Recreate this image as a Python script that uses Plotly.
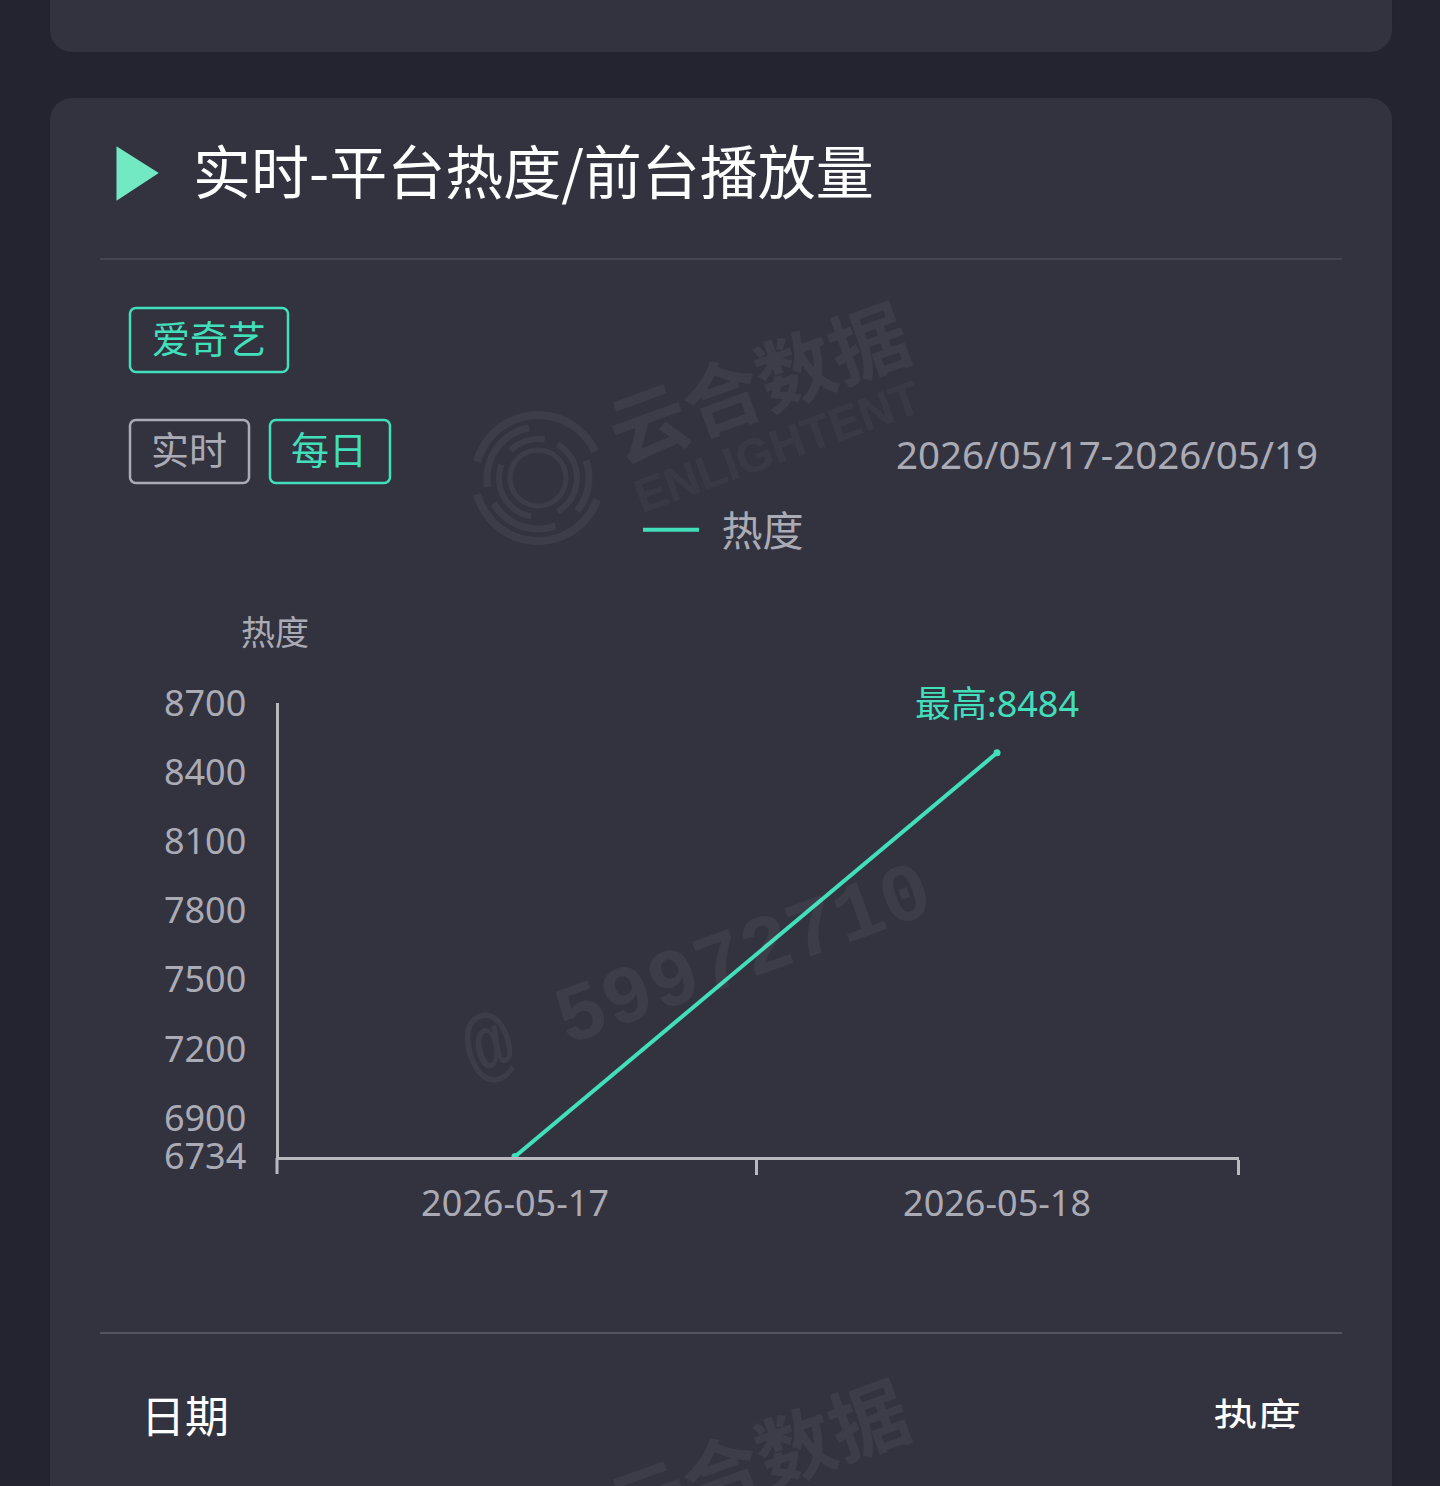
import math
import plotly.graph_objects as go

# ---- data ----
dates = ["2026-05-17", "2026-05-18"]
heat = [6734, 8484]
y_ticks = [6734, 6900, 7200, 7500, 7800, 8100, 8400, 8700]
series_name = "热度"
peak_label = "最高:8484"
title_text = "实时-平台热度/前台播放量"
date_range_text = "2026/05/17-2026/05/19"

W, H = 1440, 1486
BG = "#242430"
CARD = "#333340"
GREEN = "#42DFBB"
GREY = "#ABABB6"
AXIS = "#B8B8BE"
WM = "rgba(255,255,255,0.05)"
CJK = "Noto Sans CJK SC"
NUM = "'Noto Sans', 'Noto Sans CJK SC'"

def px(x): return x / W
def py(y): return 1 - y / H

def path_of(pts, close=False):
    s = "M " + " L ".join(f"{px(a):.5f},{py(b):.5f}" for a, b in pts)
    return s + (" Z" if close else "")

def rrect(x0, y0, x1, y1, r):
    pts = []
    for cx, cy, a0 in ((x1 - r, y0 + r, -90), (x1 - r, y1 - r, 0), (x0 + r, y1 - r, 90), (x0 + r, y0 + r, 180)):
        for i in range(9):
            t = math.radians(a0 + i * 90 / 8)
            pts.append((cx + r * math.cos(t), cy + r * math.sin(t)))
    return path_of(pts, True)

def paper_shape(path, **kw):
    return dict(type="path", xref="paper", yref="paper", path=path, layer="below", **kw)

def arc(cx, cy, r, a0, a1):
    n = max(4, int(abs(a1 - a0) / 6))
    return path_of([(cx + r * math.cos(math.radians(a0 + (a1 - a0) * i / n)),
                     cy + r * math.sin(math.radians(a0 + (a1 - a0) * i / n))) for i in range(n + 1)])

shapes = [
    paper_shape(rrect(50, -40, 1392, 52, 22), fillcolor=CARD, line=dict(width=0)),
    paper_shape(rrect(50, 98, 1392, 1560, 22), fillcolor=CARD, line=dict(width=0)),
    paper_shape(path_of([(100, 259), (1342, 259)]), line=dict(color="#45454F", width=2)),
    paper_shape(path_of([(100, 1333), (1342, 1333)]), line=dict(color="#53535E", width=2)),
    paper_shape(path_of([(118, 149), (156, 173), (118, 198)], True), fillcolor="#72E9C3",
                line=dict(color="#72E9C3", width=3)),
    paper_shape(rrect(130, 308, 288, 372, 6), line=dict(color=GREEN, width=2.5)),
    paper_shape(rrect(130, 420, 249, 483, 6), line=dict(color=GREY, width=2.5)),
    paper_shape(rrect(270, 420, 390, 483, 6), line=dict(color=GREEN, width=2.5)),
    paper_shape(path_of([(277, 1158), (277, 1174)]), line=dict(color=AXIS, width=3)),
]

# faint ring emblem of the watermark
ring_arcs = [
    (63, 20, 165, 8), (63, 195, 335, 8),
    (51, -20, 40, 7), (51, 70, 150, 7), (51, 170, 260, 7),
    (39, -60, 60, 6), (39, 100, 200, 6), (39, 225, 280, 6),
    (28, 0, 360, 5),
]
for r, a0, a1, w in ring_arcs:
    shapes.append(paper_shape(arc(538, 478, r, a0, a1), line=dict(color=WM, width=w)))

def note(x, y, text, size, color, anchor="center", family=CJK, angle=0, **kw):
    return dict(xref="paper", yref="paper", x=px(x), y=py(y), text=text, showarrow=False,
                xanchor=anchor, yanchor="middle", textangle=angle,
                font=dict(size=size, color=color, family=family), **kw)

annotations = [
    note(757, 379, "<b>云合数据</b>", 78, WM, angle=-20),
    note(777, 446, "<b>ENLIGHTENT</b>", 47, WM, angle=-20, family="'Liberation Sans'"),
    note(698, 974, "<b>@ 59972710</b>", 82, WM, angle=-20, family="'Liberation Mono'"),
    note(757, 1456, "<b>云合数据</b>", 78, WM, angle=-20),
    note(191, 169, title_text, 58, "#FFFFFF", anchor="left"),
    note(209, 336, "爱奇艺", 38, GREEN),
    note(189, 448, "实时", 38, GREY),
    note(329, 448, "每日", 38, GREEN),
    note(1320, 454, date_range_text, 38.5, GREY, anchor="right", family=NUM),
    note(275, 630, series_name, 34, GREY),
    note(185, 1414, "日期", 44, "#FFFFFF"),
    note(1257, 1417, series_name, 44, "#FFFFFF"),
    dict(xref="paper", yref="paper", x=px(1290), y=py(1453), text=" ", showarrow=False, width=200, height=46,
         bgcolor=CARD, xanchor="center", yanchor="middle", font=dict(size=10)),
    dict(x=dates[1], y=heat[1], xref="x", yref="y", text=peak_label, showarrow=False, yshift=49,
         xanchor="center", yanchor="middle", font=dict(size=36, color=GREEN, family=NUM)),
]
spot = paper_shape(path_of([(1201, 1470), (1210, 1463), (1216, 1468)], True), fillcolor="#D0D0D6",
                   line=dict(width=0))
spot["layer"] = "above"
shapes.append(spot)

fig = go.Figure()
fig.add_trace(go.Scatter(
    x=dates, y=heat, name="\u00a0\u2009" + series_name, mode="lines",
    line=dict(color=GREEN, width=4), cliponaxis=False,
))
fig.add_trace(go.Scatter(
    x=dates, y=heat, mode="markers", showlegend=False,
    marker=dict(color=GREEN, size=7), cliponaxis=False,
))
fig.update_layout(
    width=W, height=H, margin=dict(l=0, r=0, t=0, b=0, autoexpand=False), autosize=False,
    paper_bgcolor=BG, plot_bgcolor="rgba(0,0,0,0)",
    shapes=shapes, annotations=annotations,
    showlegend=True,
    legend=dict(orientation="h", x=px(638), y=py(530), xanchor="left", yanchor="middle",
                bgcolor="rgba(0,0,0,0)", itemwidth=56, itemclick=False,
                font=dict(size=41, color=GREY, family=CJK)),
    xaxis=dict(type="category", domain=[px(278.5), px(1239)], range=[-0.4907, 1.502], tickson="boundaries",
               ticks="outside", ticklen=15, tickwidth=3, tickcolor=AXIS, showgrid=False, zeroline=False,
               showline=True, linecolor=AXIS, linewidth=3, anchor="y", ticklabelstandoff=13,
               tickfont=dict(size=36, color=GREY, family=NUM)),
    yaxis=dict(domain=[py(1156.5), py(703)], range=[heat[0], 8700], tickmode="array", tickvals=y_ticks,
               showgrid=False, zeroline=False, showline=True, linecolor=AXIS, linewidth=3, anchor="x",
               ticks="", ticklabelstandoff=22, tickfont=dict(size=36, color=GREY, family=NUM)),
)
fig.write_html("out.html", post_script="document.body.style.margin='0';document.body.style.overflow='hidden';",
               config=dict(displayModeBar=False))
